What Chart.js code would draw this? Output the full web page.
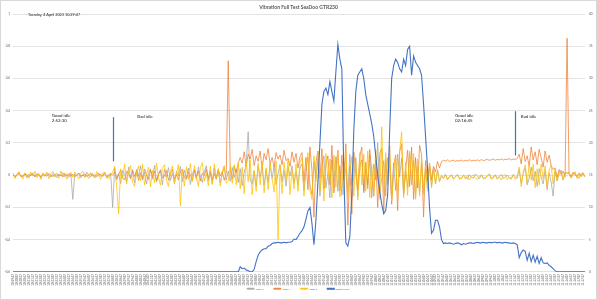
<!DOCTYPE html>
<html><head><meta charset="utf-8">
<script src="https://cdn.jsdelivr.net/npm/chart.js@4.4.0/dist/chart.umd.min.js"></script>
<style>html,body{margin:0;padding:0;background:#fff}#wrap{width:597px;height:300px;position:relative}</style>
</head><body><div id="wrap"><canvas id="c" width="597" height="300"></canvas></div>
<script>
// ---- DATA ----
const TITLE = 'Vibration Full Test SeaDoo GTR230';
const DATE_TEXT = 'Tuesday, 4 April 2023 10:29:47';
const START_TIME_S = 10*3600 + 29*60 + 47;
const STEP_S = 10;
const seriesNames = ['Accel X', 'Accel Y', 'Accel Z', 'Speed (KPH)'];

// acceleration values in milli-units
const accelX = [
 6,-14,3,18,-9,-2,12,-17,8,-4, 15,-11,1,9,-19,5,-7,13,-3,-12, 10,2,-15,7,-6,16,-10,4,-13,11,
 -150,8,-5,14,-16,3,-8,19,-2,-11, 9,-14,6,12,-7,-1,15,-18,4,10,-200,
 45,-20,12,-52,30,5,-38,50,-15,22, -48,35,-8,58,-30,18,-55,10,40,-25, 60,-42,3,28,-60,38,-12,47,-33,15,
 -50,25,-5,55,-40,32,-18,44,-58,8, 36,-28,52,-10,-45,20,58,-35,14,-52, 42,-22,30,-48,10,50,-30,
 25,-38,48,-15,40,-45,
 40,-65,15,70,270,-30,-55,25,-70,60, -10,50,-62,35,-45,68,-20,55,-58,12, 66,-40,30,-68,48,-5,58,-50,20,-62,45,
 70,-95,30,110,-60,-120,85,-20,100,-130, 45,120,-80,10,-140,95,-40,115,-100,60, -125,80,20,-105,130,-60,-15,110,-135,50,
 95,-110,35,-85,125,-140,70,-30,200,-115, -20,90,-130,110,40,-150,75,-95,130,-10, 105,-125,25,-80,140,-60,95,-135,55,-110,
 80,-100,40,-85,60,-70,
 45,-55,30,-40,
 -2,-18,6,-24,-8,3,-20,-12,5,-16, -22,1,-9,-25,4,-14,-19,7,-6,-23, 2,-15,-21,-4,8,-18,-11,3,-24,-7, 6,-20,-13,1,-17,-25,4,-10,-19,
 35,-50,10,45,-60,-20,50,-35,25,-70, 40,-10,-55,30,-90,15,-40,-130,
 25,-35,10,30,-28,15,
 10,
 12,-18,5,16,-10,-20,8,14,-12
];
const accelY = [
 5,-8,2,10,-4,-9,7,0,-11,6, 3,-7,9,-2,-10,8,1,-6,11,-3, -8,4,10,-5,2,-12,7,-1,9,-7,
 6,-10,3,12,-5,-2,8,-9,4,10, -6,1,-11,7,5,-8,11,-3,-7,9,2,
 20,-28,5,32,-15,-30,25,10,-22,35, -8,28,-33,15,-20,38,2,-26,30,-12, 24,-35,8,34,-18,-5,29,-31,12,36,
 -24,6,-30,22,38,-14,-27,18,4,-33, 32,-10,26,-36,14,-2,37,-21,28,-29, 10,-25,34,-6,22,-32,15,
 710,30,-25,55,15,75,
 110,75,145,55,130,100,160,60,120,85, 150,40,135,95,165,70,110,50,140,100, 125,65,155,90,105,55,145,80,135,45,115,
 140,-40,110,-90,175,30,-260,80,150,-20, 165,-85,60,120,-60,185,-110,40,155,-95, 125,-30,195,-310,55,-240,145,10,-90,115,
 175,-100,80,-60,160,20,-130,95,-200,135, 165,-240,100,-50,185,-180,60,125,-220,145, 195,-110,35,155,-70,175,-150,110,-80,185,
 130,-260,90,-40,75,-30,
 55,20,85,45,
 85,92,88,95,84,90,93,86,91,88, 94,87,92,89,96,88,93,90,95,89, 97,91,94,99,92,96,100,93,98,95, 101,94,99,97,103,95,100,98,104,
 130,70,165,85,120,55,175,95,145,65, 160,110,50,150,80,125,60,35,
 45,-15,35,5,25,-10,
 850,
 12,-8,18,2,-10,14,-4,9,-6
];
const accelZ = [
 15,-20,4,22,-10,-24,12,3,-18,20, -6,25,-15,8,-26,14,-3,19,-22,10, 24,-12,2,-20,27,-8,15,-25,6,18,
 -14,21,-5,-23,12,26,-17,4,-21,16, 9,-19,23,-2,-26,13,20,-11,-24,7,18,
 55,-65,-240,40,-20,70,-55,25,60,-45, -70,15,58,-35,68,-60,5,50,-72,30, -48,75,-15,-62,45,65,-30,-70,20,58,
 -52,10,66,-190,35,-68,52,-25,72,-40, 60,-15,-70,48,78,-38,12,-66,55,-58, 70,-20,42,-68,25,60,-50,
 -35,55,-50,65,-60,75,
 -85,50,-115,90,-40,95,-120,30,-100,75, -60,85,-110,45,-90,70,-20,-105,88,-400, 60,-115,80,-30,95,-120,40,-85,70,-100,80,
 110,-130,60,140,-90,-150,120,-40,150,-100, 80,-160,135,-20,100,-140,125,-75,145,-135, 50,-120,155,-145,20,115,-130,90,-155,140,
 -60,130,-100,150,-140,60,-125,160,-30,-150, 300,-110,140,-60,125,-160,30,110,-135,150, 270,-140,80,-125,150,-45,135,-150,100,-130,
 110,-120,60,-100,70,-80,
 45,-55,35,-40,
 -5,-22,2,-30,-12,0,-26,-8,4,-28, -15,-2,-24,1,-30,-10,3,-20,-27,-6, 2,-25,-14,-4,5,-28,-18,0,-24,-9, -30,-3,4,-27,-12,-21,3,-26,-8,
 50,-70,20,65,-55,75,-30,68,-78,40, -60,70,-20,58,-75,30,64,-55,
 40,-35,15,30,-32,10,
 20,
 18,-15,5,22,-20,8,-12,16,-10
];
const speedKph = [
 0,0,0,0,0,0,0,0,0,0, 0,0,0,0,0,0,0,0,0,0, 0,0,0,0,0,0,0,0,0,0, 0,0,0,0,0,0,0,0,0,0,
 0,0,0,0,0,0,0,0,0,0, 0,0,0,0,0,0,0,0,0,0, 0,0,0,0,0,0,0,0,0,0, 0,0,0,0,0,0,0,0,0,0,
 0,0,0,0,0,0,0,0,0,0, 0,0,0,0,0,0,0,0,0,0, 0,0,0,0,0,0,0,0,0,0, 0,0,0,
 0,0.8,0.5,0.6,0.3,0.2,0,0,0.4,1.6,
 2.6,3.1,3.4,3.6,3.6,4.0,4.1,4.4,4.5,4.5,
 4.6,4.5,4.5,4.6,4.5,4.6,4.6,4.7,5.1,5.0,
 5.5,6.0,6.4,7.0,8.2,9.5,10.0,7.5,4.2,8.0,
 14,20,26,28,28.5,27.5,29.5,28,26.5,31,
 35.3,33,31.5,15,4.5,4.0,5.5,12,22,28,
 30.5,31,31.5,30,27.5,26,24.5,23,21,18,
 15,12.5,10.5,9,9.5,12,22,30,32,33,
 32.5,31.5,31,33,32,34.5,35,30.5,33.5,32.5,
 32,31.5,30.5,26,21,16,10,6,6.5,8,
 8,7,5,4.4,
 4.5,4.4,4.5,4.4,4.3,4.4,4.5,4.4,4.2,4.4, 4.3,4.4,4.5,4.5,4.4,4.5,4.6,4.5,4.5,4.6,
 4.5,4.5,4.6,4.5,4.6,4.6,4.5,4.6,4.5,4.5, 4.6,4.5,4.5,4.4,4.5,4.4,
 4.2,2.2,3.0,3.4,3.2,1.8,2.9,1.6,2.6,1.5, 2.4,1.3,2.2,1.4,1.3,1.4,1.0,0.8,0.5,0.2,
 0,0,0,0,0,0,0,0,0,0, 0,0,0,0,0
];
// annotation texts (position given as category index and left-axis value)
const notes = [
  {text:'Good idle', at:19.5, v:0.372},
  {text:'2:52:30', at:19.5, v:0.336},
  {text:'Bad idle', at:62.4, v:0.365},
  {text:'Good idle', at:221.8, v:0.372},
  {text:'02:16:45', at:221.8, v:0.338},
  {text:'Bad idle', at:254.8, v:0.365}
];
const markers = [
  {at:50.3, from:0.36, to:0.086},
  {at:252.1, from:0.397, to:0.122}
];

// ---- BUILD ----
function fmtTime(s){ s = s % 86400; const h=Math.floor(s/3600), m=Math.floor(s%3600/60), ss=s%60;
  return [h,m,ss].map(n=>String(n).padStart(2,'0')).join(':'); }
const categories = accelX.map((_,i)=>fmtTime(START_TIME_S + i*STEP_S));
const toG = a => a.map(v=>v/1000);
const FONT = 'Lato, "Liberation Sans", sans-serif';
Chart.defaults.font.family = FONT;
const GREY = '#595959';

const annotPlugin = {
  id:'annot',
  afterLayout(chart){
    // let the rotated time labels extend below the (thin) x-axis box without being clipped
    const x = chart.scales.x; x.bottom = x.top + 16;
  },
  afterDatasetsDraw(chart){
    const {ctx, scales:{x,y}} = chart;
    ctx.save();
    markers.forEach(m=>{
      const px = Math.round(x.getPixelForValue(m.at))+0.5;
      ctx.strokeStyle='#4a6fb5'; ctx.lineWidth=1.2;
      ctx.beginPath(); ctx.moveTo(px, y.getPixelForValue(m.from)); ctx.lineTo(px, y.getPixelForValue(m.to)); ctx.stroke();
    });
    ctx.fillStyle='#1a1a1a'; ctx.textBaseline='middle'; ctx.textAlign='left';
    notes.forEach(n=>{
      ctx.font = '4.4px ' + FONT;
      ctx.fillText(n.text, x.getPixelForValue(n.at), y.getPixelForValue(n.v));
    });
    ctx.font = '3.8px ' + FONT;
    ctx.fillText(DATE_TEXT, x.getPixelForValue(7.5), y.getPixelForValue(0.996));
    ctx.restore();
  },
  afterDraw(chart){
    const ctx = chart.ctx; ctx.save();
    ctx.strokeStyle='#d9d9d9'; ctx.lineWidth=1;
    ctx.strokeRect(0.5,0.5,chart.width-1,chart.height-1);
    ctx.restore();
  }
};

const ds = (label, data, color, axis, w) => ({label, data, borderColor:color, backgroundColor:color,
  borderWidth:w, pointRadius:0, pointHoverRadius:0, fill:false, tension:0, yAxisID:axis});

new Chart(document.getElementById('c'), {
  type:'line',
  data:{ labels:categories, datasets:[
    Object.assign(ds(seriesNames[0], toG(accelX), '#a5a5a5', 'y', 0.75), {order:3}),
    Object.assign(ds(seriesNames[1], toG(accelY), '#ed7d31', 'y', 0.75), {order:2}),
    Object.assign(ds(seriesNames[2], toG(accelZ), '#ffc000', 'y', 0.75), {order:1}),
    Object.assign(ds(seriesNames[3], speedKph, '#4472c4', 'y1', 1.1), {order:0})
  ]},
  options:{
    responsive:false, animation:false, devicePixelRatio:1,
    layout:{padding:{left:0,right:0,top:0,bottom:0}},
    plugins:{
      tooltip:{enabled:false},
      title:{display:true, text:TITLE, color:GREY, font:{size:5, weight:'bold', family:FONT}, padding:{top:4, bottom:4}},
      legend:{position:'bottom', labels:{color:GREY, font:{size:2.6, family:FONT}, boxWidth:7, boxHeight:1, padding:10,
        sort:(a,b)=>a.datasetIndex-b.datasetIndex}}
    },
    scales:{
      x:{type:'category', offset:false, grid:{display:false, drawTicks:false}, border:{display:false},
        ticks:{autoSkip:false, minRotation:90, maxRotation:90, color:GREY, font:{size:3, family:FONT}, padding:2,
          callback(v,i){ return i%2===0 ? this.getLabelForValue(v) : ''; }},
        afterFit(s){ s.height = 5.5; }},
      y:{position:'left', min:-0.6, max:1,
        ticks:{stepSize:0.2, color:GREY, font:{size:3, family:FONT}, padding:3, callback:v=>String(+v.toFixed(1))},
        grid:{color:'#d9d9d9', lineWidth:0.75, drawTicks:false}, border:{display:false},
        afterFit(s){ s.width = 13; }},
      y1:{position:'right', min:0, max:40,
        ticks:{stepSize:5, color:GREY, font:{size:3, family:FONT}, padding:4},
        grid:{drawOnChartArea:false, drawTicks:false}, border:{display:false},
        afterFit(s){ s.width = 12; }}
    }
  },
  plugins:[annotPlugin]
});
</script></body></html>
